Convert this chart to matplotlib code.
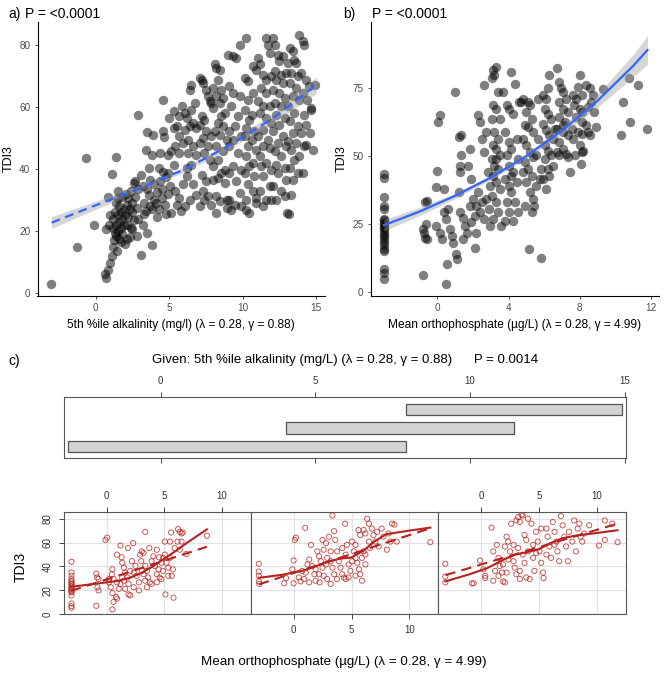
import matplotlib
matplotlib.use('Agg')
import matplotlib.pyplot as plt
import numpy as np

plt.rcParams['font.family'] = ['Liberation Sans', 'DejaVu Sans']

# ---------------- data: panel a (TDI3 vs transformed alkalinity) ----------------
alk_x = [
    -3.05, -1.3, -0.65, -0.1, 0.6, 0.7, 0.85, 0.7, 0.85, 0.9, 0.95,
    1.0, 1.1, 1.15, 1.25, 1.3, 1.4, 1.1, 1.2, 1.3, 1.4, 1.5, 1.5, 1.6, 1.6, 1.7,
    1.7, 1.8, 1.8, 1.9, 1.9, 1.35, 1.5, 1.6, 1.7, 1.45, 1.55, 1.8, 2.0, 1.2, 1.4,
    2.0, 2.1, 2.1, 2.2, 2.2, 2.3, 2.4, 2.4, 2.5, 2.5, 2.6, 2.6, 2.7, 2.7, 2.8,
    2.8, 2.9, 2.9, 2.3, 2.45, 2.05, 2.9, 2.1,
    3.1, 3.2, 3.3, 3.4, 3.5, 3.5, 3.6, 3.6, 3.7, 3.7, 3.8, 3.85, 3.9, 3.95, 4.0,
    3.3, 3.1, 3.2, 3.5, 3.8, 3.45,
    4.3, 4.6, 4.6, 4.65, 4.1, 4.2, 4.3, 4.4, 4.5, 4.5, 4.7, 4.8, 4.9, 4.9, 4.4,
    4.8, 4.15, 4.6,
    5.0, 5.3, 5.4, 5.15, 5.3, 5.5, 5.7, 5.95, 5.7, 5.15, 5.4, 5.7, 5.95, 6.2,
    5.7, 6.05, 5.9, 5.05, 5.5, 5.8, 6.05, 4.95, 5.3,
    6.4, 6.5, 6.75, 6.5, 6.2, 6.6, 6.85, 6.3, 6.6, 6.85, 6.5, 6.2, 6.6, 6.85,
    6.4, 6.3, 6.4, 6.05,
    7.1, 7.2, 7.3, 7.5, 7.65, 7.85, 7.75, 7.2, 7.4, 7.1, 7.5, 7.85, 7.3, 7.1,
    7.65, 7.4, 7.75, 7.2, 7.5, 7.3, 7.65, 7.85, 7.1, 8.0, 7.4,
    8.1, 8.2, 8.45, 8.3, 8.0, 8.55, 8.2, 8.65, 8.45, 8.0, 8.8, 8.3, 8.65, 8.1,
    8.45, 8.9, 8.2, 8.65, 8.3, 8.0, 8.55, 8.3, 8.8, 8.2, 8.45, 8.9, 8.2, 8.8, 8.55,
    9.0, 9.35, 9.55, 9.1, 9.35, 9.8, 9.2, 9.7, 9.45, 9.1, 9.9, 9.35, 9.1, 9.7,
    9.35, 9.9, 9.1, 9.55, 9.8, 9.1, 9.45, 9.9, 9.2, 8.9,
    9.8, 10.25, 10.15, 10.35, 10.7, 10.9, 10.35, 10.7, 10.15, 10.45, 10.25, 10.8,
    10.15, 10.6, 10.35, 10.9, 10.25, 10.7, 10.45, 10.15, 10.8, 10.35, 10.7, 10.25,
    10.9, 10.25, 10.45, 10.9, 10.6,
    11.05, 11.15, 11.6, 11.7, 11.85, 11.4, 11.6, 11.95, 11.25, 11.6, 11.05, 11.4,
    11.85, 11.15, 11.6, 11.95, 11.4, 11.05, 11.7, 11.4, 11.85, 11.15, 11.6, 11.25,
    11.95, 11.4, 11.85, 11.15, 11.6, 11.4, 11.95,
    12.05, 12.2, 12.4, 12.5, 12.75, 12.2, 12.6, 12.95, 12.3, 12.75, 12.05, 12.5,
    12.85, 12.2, 12.6, 12.3, 12.85, 12.5, 12.05, 12.75, 12.4, 12.95, 12.2, 12.6,
    12.3, 12.85, 12.4, 12.95, 12.05, 12.6, 12.3, 12.85,
    13.0, 13.15, 13.2, 13.4, 13.1, 13.5, 13.3, 13.75, 13.2, 13.65, 13.4, 13.85,
    13.1, 13.5, 13.2, 13.75, 13.4, 13.1, 13.65, 13.3, 13.5, 13.2, 13.4, 13.3,
    13.75, 13.85,
    13.85, 14.1, 14.2, 13.65, 14.0, 14.3, 14.5, 14.1, 14.4, 14.2, 14.65, 14.3,
    14.0, 14.55, 14.2, 14.75, 14.9, 14.65, 14.1, 14.3,
]
alk_tdi = [
    3.0, 15, 43.5, 21.8, 6.1, 4.8, 7.5, 20.7, 31, 22, 25,
    9.7, 11.8, 15, 17.2, 19.4, 44, 38.5, 24, 26, 22, 20, 25, 23, 28, 21,
    26, 24, 19, 27, 22, 29, 30.5, 17.5, 16.5, 13.5, 33, 31, 15.8, 21, 18.5,
    25, 22, 28.5, 24.5, 30.5, 27, 21, 33, 26, 29, 23.5, 35.5, 36, 31, 18.3,
    27.5, 57.5, 33.5, 18, 20.5, 32, 24, 17.5,
    12.4, 34.4, 29, 46, 52, 19.4, 40.3, 31.5, 28, 36.5, 27, 15.4, 50.8, 30, 35,
    25.5, 38, 22, 33.5, 44.5, 26.5,
    40.3, 62.4, 52.4, 50.2, 29, 32.5, 27, 36, 30.5, 33.5, 28.5, 37.5, 32, 44.5, 45,
    25.5, 24.5, 39,
    56.5, 53.2, 47.3, 45.7, 58.6, 53.8, 50.5, 48.4, 45.2, 25.8, 32.8, 30.6, 35, 40.3,
    57, 58, 60.2, 34.4, 28.5, 26.3, 28, 38.7, 41.4,
    65.6, 67.2, 61.3, 59.1, 56.5, 54.8, 53.2, 49.5, 47.3, 44.6, 41.4, 37.6, 35, 31.7,
    30, 45.2, 53.8, 52.7,
    69.4, 68.8, 67.7, 65.6, 63.4, 61.3, 61.8, 57, 55.9, 54.3, 52.2, 50.5, 50, 48.4,
    47.3, 45.2, 43, 38.2, 36, 32.8, 31.2, 28.5, 28, 36.6, 30,
    73.7, 72.6, 72, 68.8, 66.1, 65.6, 63.4, 62.9, 61.3, 59.7, 58, 54.8, 53.8, 52.2,
    51, 49.5, 47.3, 45.7, 43, 40.9, 38.7, 37, 35.5, 31.2, 29.6, 27.4, 25.8, 39.8, 57,
    76.6, 76.3, 75.8, 66.7, 64.5, 63.4, 60.2, 57, 53.8, 52.2, 50.5, 49.5, 47.3, 45.2,
    40.9, 39.8, 38.7, 36, 32.3, 30.1, 28.5, 28, 26.9, 30,
    80.1, 82.3, 69.4, 68.3, 73.1, 72, 62.4, 64.5, 59.1, 55.9, 53.2, 52.2,
    50.5, 49.5, 47.3, 46.2, 44.1, 41.9, 40.9, 38.7, 37.6, 35, 32.8, 30.1,
    29, 26.9, 25.8, 30.6, 57.5,
    75.8, 73.7, 82.3, 80.1, 77.4, 70.4, 68.8, 69.9, 66.1, 64.5, 61.8, 60.2,
    60.2, 58, 56.5, 54.8, 52.7, 50.5, 49.5, 47.3, 46.8, 44.1, 41.9, 40.9,
    39.8, 37.6, 34.4, 32.8, 30.1, 28, 30.1,
    82.3, 80.1, 76.9, 74.7, 76.3, 71.5, 70.4, 71, 68.8, 67.7, 65.6, 64.5,
    62.9, 61.3, 60.2, 57.5, 56.5, 54.3, 52.2, 50.5, 48.4, 47.3, 45.7, 44.1,
    41.4, 40.3, 38.7, 36.6, 34.4, 32.8, 30.1, 31.2,
    25.8, 25.6, 79, 78, 74.2, 75.3, 71, 69.9, 67.7, 66.1, 63.4, 62.4,
    60.2, 58, 55.4, 53.8, 51.6, 48.9, 48.4, 46.2, 43, 40.3, 36.6, 31.7,
    38.7, 44.1,
    83.3, 81.2, 80.1, 74.2, 71, 68.8, 66.7, 64.5, 62.4, 57.5, 59.7, 54.3,
    51.6, 51.6, 47.3, 46.2, 67.2, 59.1, 38.7, 47.8,
]
fit_a_x = [-3, 0, 3, 6, 9, 12, 15]
fit_a_y = [22.7, 28.3, 33.8, 39.8, 47.3, 56.2, 67.0]
fit_a_lo = [20.8, 27.0, 32.9, 39.0, 46.3, 54.6, 64.3]
fit_a_hi = [24.6, 29.6, 34.7, 40.6, 48.3, 57.8, 69.7]

# ---------------- data: panel b (TDI3 vs transformed orthophosphate) ----------------
phos_x = [
    -3.0, -3.0, -3.0, -3.0, -3.0, -3.0, -3.0, -3.0, -3.0, -3.0, -3.0,
    -3.0, -3.0, -3.0, -3.0, -3.0, -3.0, -3.0, -3.0, -3.0, -3.0, -3.0,
    -0.8, -0.75, -0.7, -0.8, -0.6, -0.63, -0.7, -0.6, 0.0, -0.05, 0.15, 0.05,
    -0.05, 0.15, 0.25, 0.35,
    0.5, 0.55, 0.4, 0.6, 0.5, 0.7, 0.8, 0.9, 1.0, 1.05, 1.1, 1.2, 1.25, 1.3,
    1.35, 1.2, 1.35, 1.25, 1.45, 1.55, 1.65, 1.45,
    1.85, 1.75, 1.9, 2.0, 2.2, 2.1, 2.3, 1.85, 1.9, 2.1, 2.2, 2.4, 2.5, 2.3,
    2.4, 2.5, 2.6, 2.65, 2.75, 2.85, 2.95, 2.75, 2.9, 2.65, 2.95,
    3.15, 3.3, 3.05, 3.2, 3.4, 3.15, 3.3, 3.5, 3.05, 3.2, 3.4, 3.15, 3.3, 3.5,
    3.05, 3.2, 3.4, 3.15, 3.3, 3.5, 3.05, 3.3, 3.4, 3.15, 3.6, 3.3,
    3.7, 3.9, 4.15, 4.35, 4.05, 4.25, 3.8, 4.0, 4.15, 3.9, 4.05, 4.25, 3.8, 4.0,
    4.15, 3.9, 4.05, 4.25, 3.8, 4.35, 4.45, 4.55, 4.45, 4.6, 4.7, 4.55, 4.15,
    4.8, 5.1, 5.2, 5.0, 5.3, 4.9, 5.1, 5.4, 4.8, 5.0, 5.2, 5.4, 4.9, 5.1, 5.3,
    4.8, 5.0, 5.2, 5.4, 4.9, 5.15, 5.3, 5.45, 5.55, 5.55, 5.65, 5.85, 5.75, 5.65, 5.8,
    5.95, 6.1, 6.2, 6.3, 6.05, 6.2, 6.4, 5.95, 6.1, 6.3, 6.5, 6.05, 6.2, 6.4,
    6.05, 6.2, 5.95, 6.1, 6.3, 6.5, 6.7, 6.6,
    6.75, 6.95, 6.85, 7.05, 7.25, 6.85, 7.05, 7.35, 6.85, 7.15, 6.75, 7.05, 7.35,
    6.85, 7.05, 7.25, 6.85, 7.35, 7.45, 7.05, 7.55,
    7.6, 7.8, 8.0, 7.9, 8.15, 8.35, 7.7, 8.0, 8.15, 8.45, 7.8, 8.1, 8.35, 7.9,
    8.15, 8.45, 7.6, 8.0, 8.2, 8.05, 8.15, 7.75,
    8.55, 8.75, 8.8, 8.9, 9.3, 8.65, 8.55, 10.3, 10.45, 10.75, 10.8, 11.25, 11.8,
]
phos_tdi = [
    43.5, 42, 35, 31.5, 30.5, 27, 26.5, 25.5, 25, 24, 23.5,
    22.5, 21.5, 20.5, 19.5, 18.5, 17.5, 16, 15, 8.5, 7, 5,
    23.1, 21.9, 20, 6.2, 19.4, 25, 33, 33.6, 44.6, 38.5, 65, 62.5,
    24.4, 21.9, 19.4, 29.3,
    3.2, 10.2, 37.9, 30.5, 26.8, 23.1, 20.7, 18.2, 73.6, 13.9, 12.1, 36.7, 44, 46.5,
    50.2, 57, 57.6, 29.3, 27.4, 24.4, 21.9, 19.4,
    52.6, 46.5, 41.6, 34.2, 31.7, 28, 36.7, 31.7, 25.6, 16.4, 21.9, 29.3, 33, 65,
    62.5, 56.3, 51.4, 76, 58.8, 44, 39.1, 34.2, 30.5, 26.8, 24.4,
    81.5, 82.8, 78.5, 79.7, 73.6, 68.6, 67.4, 63.7, 63.7, 58.8, 56.3, 53.9, 52.6, 50.2,
    49, 46.5, 45.3, 42.8, 40.3, 37.9, 35.4, 33, 29.3, 26.8, 24.4, 49,
    73.6, 68.6, 81, 76.3, 67.4, 65.6, 58.8, 55.1, 52.6, 50.2, 46.5, 44, 41.6, 39.1,
    36.7, 33, 29.3, 26.2, 26.2, 33, 40.3, 49, 56.3, 69.9, 69.9, 29.3, 42.8,
    71, 69.9, 68.6, 66.2, 63.7, 61.3, 60.6, 58.8, 56.3, 53.9, 51.4, 49.6, 47.7, 45.3, 42.8,
    44, 40.3, 36.7, 34.2, 31.7, 15.7, 29.3, 31.7, 39.1, 50.2, 71, 12.7, 41.6, 56.3, 45.3,
    72.3, 71, 74.8, 79.7, 67.4, 65.6, 63.7, 61.9, 59.4, 57.6, 56.3, 53.9, 52, 50.2,
    49, 45.3, 41.6, 37.9, 42.8, 46.5, 51.4, 60,
    82.2, 74.8, 77.2, 73.6, 71, 69.9, 67.4, 66.2, 64.3, 62.5, 60, 58.8, 57.6,
    55.1, 52.6, 50.8, 50.2, 49.6, 44, 61.3, 60,
    72.3, 71, 79.7, 75.4, 72.3, 76, 68.6, 67.4, 66.2, 68, 64.3, 62.5, 61.3, 58.8,
    58.2, 58.8, 56.3, 53.9, 52, 47, 51.4, 50.2,
    74.8, 72.3, 66.2, 60.6, 74.5, 69.9, 57.6, 57.6, 69.9, 78.7, 62.5, 76, 60,
]
fit_b_x = [-3, -1, 1, 3, 5, 7, 9, 11, 11.8]
fit_b_y = [24.6, 29.6, 35.4, 42.1, 50.0, 59.3, 70.3, 83.1, 88.9]
fit_b_lo = [22.5, 28.1, 34.4, 41.3, 49.1, 57.9, 67.9, 79.0, 83.6]
fit_b_hi = [26.7, 31.1, 36.4, 42.9, 50.9, 60.7, 72.7, 87.2, 94.2]

# ---------------- data: panel c (coplot) ----------------
given_lo = [-2.98, 4.05, 7.92]
given_hi = [7.92, 11.4, 14.9]
given_ticks = [0, 5, 10, 15]

c1_x = [
    -3.05, -3.05, -3.05, -3.05, -3.05, -3.05, -3.05, -3.05, -3.05,
    -3.05, -3.05, -3.05, -3.05, -3.05, -3.05, -3.05, -3.05, -3.05,
    -0.9, -0.83, -0.7, -0.8, -0.7, -0.9, -0.1, 0.05, 0.5, 0.45,
    0.6, 0.2, 0.35, 0.5, 0.8, 0.9, 0.5, 0.6, 1.05, 1.2,
    0.9, 1.3, 1.2, 1.35, 1.5, 1.6, 1.8, 1.5, 1.9, 1.6,
    2.05, 1.85, 2.3, 2.2, 2.5, 2.35, 2.6, 2.8, 2.35, 2.9,
    3.05, 3.2, 3.35, 3.0, 3.35, 3.5, 3.2, 3.6, 3.35, 3.75,
    3.5, 3.9, 4.05, 3.7, 4.35, 4.2, 4.5, 4.35, 4.6, 4.75,
    4.9, 5.05, 5.2, 5.35, 5.65, 5.35, 5.05, 5.5, 5.6, 5.1,
    5.8, 5.75, 5.9, 6.15, 6.2, 6.35, 6.5, 6.6, 6.5, 6.9,
    6.35, 8.7, 4.75, 3.9, 2.8, 1.9, 3.05, 4.35, 4.9, 4.55,
    5.5, 0.9, 1.35, 2.05, 0.2,
]
c1_y = [
    43.9, 34.9, 32.2, 29.5, 26.7, 24.8, 23.2, 21.3, 19.9,
    18.3, 15.8, 9, 6.8, 5.5, 28, 25.5, 22, 19,
    34, 30.8, 29.5, 22.6, 19.9, 7.1, 62.2, 64.1, 37.6, 33.5,
    29.5, 26.7, 22.6, 17.7, 14.5, 13.1, 4.1, 10.4, 21.3, 25.4,
    49.9, 47.7, 57.5, 43.1, 39, 34.9, 30.8, 28.1, 25.4, 21.3,
    15.8, 55.4, 59.5, 44.4, 40.4, 34.9, 32.2, 26.7, 22.6, 49.9,
    52.6, 51.3, 69, 44.4, 40.4, 36.3, 33.5, 30.8, 28.1, 26.7,
    22.6, 44.4, 48.5, 55.4, 54, 40.4, 37.6, 33.5, 30.8, 43.1,
    47.2, 49.9, 43.1, 39, 32.2, 32.2, 60.8, 60.8, 68.4, 16.6,
    13.9, 37.6, 55.4, 60.8, 71.2, 69, 67.6, 68.4, 60.8, 50.4,
    54, 65.7, 29.5, 25.4, 19.9, 16.6, 36.3, 26.7, 36.3, 47.7,
    47.2, 26.7, 30.8, 36.3, 29.5,
]
c2_x = [
    -3.0, -3.0, -3.0, -3.0, -2.95,
    -0.8, -0.65, -0.1, 0.0, 0.1, 0.2, 0.0, 0.45, 0.6, 0.9,
    1.0, 1.05, 1.2, 1.35, 1.5, 1.6, 1.8, 1.9, 2.05, 2.2,
    2.35, 2.5, 2.6, 2.25, 2.5, 2.8, 3.05, 3.35, 3.5, 3.6,
    3.75, 3.2, 2.9, 3.2, 3.35, 3.5, 2.9, 3.2, 3.9, 4.05,
    4.2, 4.45, 4.5, 4.6, 4.75, 4.9, 4.35, 5.05, 5.2, 5.35,
    5.5, 5.65, 4.75, 5.35, 5.6, 5.75, 6.05, 6.2, 6.35, 6.5,
    6.5, 6.6, 6.05, 5.9, 6.2, 5.75, 6.75, 6.9, 7.05, 7.35,
    7.2, 7.6, 7.75, 8.05, 8.35, 8.5, 8.7, 8.9, 8.2, 11.8,
    5.05, 4.2, 1.9, 0.75, 2.8, 3.75, 5.9, 4.5, 2.2, 1.35,
    2.6, 5.35, 6.2,
]
c2_y = [
    42.3, 35.7, 32.2, 27.5, 25.4,
    25.9, 30.3, 37.6, 45, 62.2, 64.1, 25.9, 30.8, 27.5, 29.5,
    72.3, 34.9, 41.7, 45.8, 58.1, 40.4, 33.5, 28.1, 52.6, 48.5,
    44.4, 39, 32.2, 26.7, 62.2, 59.5, 64.9, 82.6, 69.5, 62.2,
    52.6, 52.6, 47.2, 44.4, 39, 33.5, 29.5, 25.4, 44.4, 39,
    33.5, 75.8, 49.9, 58.1, 41.7, 36.3, 30.8, 60.8, 52.6, 47.2,
    43.1, 37.6, 30.8, 32.2, 70.4, 66.3, 70.4, 67.6, 79.9, 75.8,
    60.8, 55.4, 52.6, 47.2, 41.7, 33.5, 71.7, 66.3, 60.8, 56.7,
    69, 71.7, 64.9, 54, 60.8, 75.8, 75, 60.8, 67.6, 60.3,
    44.4, 55.4, 37.6, 36.3, 41.7, 29.5, 28.1, 29.5, 33.5, 26.7,
    54, 58.1, 50,
]
c3_x = [
    -3.1, -3.1, -3.1,
    -0.8, -0.65, -0.1, 0.2, 0.35, 0.35, 0.9, 1.05, 1.2, 1.05,
    1.35, 1.5, 1.6, 1.8, 1.9, 2.05, 2.2, 2.35, 2.5, 2.6,
    2.8, 2.9, 3.05, 3.2, 3.35, 3.5, 3.6, 3.05, 3.35, 3.75,
    3.9, 4.05, 4.2, 4.35, 3.6, 3.75, 3.2, 2.8, 2.35, 4.5,
    4.6, 4.75, 4.9, 5.05, 5.2, 5.35, 5.4, 5.65, 5.75, 5.9,
    6.05, 6.2, 6.35, 6.5, 6.6, 6.75, 6.9, 7.05, 7.2, 7.35,
    7.5, 7.6, 7.9, 8.05, 8.2, 8.35, 8.5, 8.6, 8.75, 8.9,
    9.35, 10.2, 10.7, 10.7, 11.35, 11.8, 4.5, 4.75, 5.65, 4.05,
    1.9, 3.35, 2.2, 3.9, 2.05, 1.5, 5.2, 6.35,
]
c3_y = [
    42.3, 31.6, 26.7,
    25.9, 25.9, 45, 37.6, 32.2, 30.3, 72.5, 28.1, 36.3, 52.6,
    58.1, 47.2, 40.4, 34.9, 27.5, 56.7, 64.9, 60.8, 52.6, 75.8,
    44.4, 39, 78.5, 81.3, 77.2, 83.2, 82.6, 33.5, 29.5, 66.3,
    62.2, 79.9, 29.5, 75.8, 49.9, 43.1, 55.4, 58.1, 45.8, 47.2,
    36.3, 69, 60.8, 52.6, 43.1, 34.9, 30.3, 71.7, 64.9, 56.7,
    47.2, 77.2, 69, 60.8, 52.6, 44.4, 82.1, 74.4, 64.9, 56.7,
    44.4, 69, 60.8, 78.5, 52.6, 71.7, 75.8, 64.9, 60.8, 67.6,
    74.4, 57.5, 78.5, 62.2, 75.8, 60.3, 58.1, 51.2, 49.9, 52.6,
    41.7, 36.3, 34.9, 30.8, 26.7, 32.2, 71.7, 58.1,
]
# smoother (solid) and linear fit (dashed) per coplot panel
c1_smooth_x = [-3.1, -1, 1, 2, 3, 4, 5, 6, 7, 8, 8.7]
c1_smooth_y = [23.0, 25.5, 28.0, 30.5, 34.5, 40.0, 46.5, 53.0, 60.0, 66.5, 71.0]
c1_lin_x = [-3.1, 8.7]
c1_lin_y = [19.5, 56.5]
c2_smooth_x = [-3, -1, 1, 2, 3, 4, 5, 6, 7, 8, 9, 10, 11.8]
c2_smooth_y = [30.5, 33.0, 37.0, 40.5, 44.0, 46.5, 47.5, 53.0, 61.0, 67.0, 68.5, 70.0, 72.5]
c2_lin_x = [-3, 11.8]
c2_lin_y = [25.0, 72.0]
c3_smooth_x = [-3.1, -1, 0.5, 2, 3, 4, 5, 6, 7, 8, 9, 10, 11.8]
c3_smooth_y = [27.5, 33.5, 38.5, 46.0, 50.0, 52.0, 54.5, 59.5, 63.5, 65.5, 66.8, 68.0, 70.3]
c3_lin_x = [-3.1, 11.8]
c3_lin_y = [32.7, 75.8]

# ---------------- figure ----------------
W, H = 667, 680
fig = plt.figure(figsize=(W / 100, H / 100), dpi=100)


def rect(l, t, r, b):
    return [l / W, 1 - b / H, (r - l) / W, (b - t) / H]


def gg_axes(ax):
    for s in ['top', 'right']:
        ax.spines[s].set_visible(False)
    for s in ['left', 'bottom']:
        ax.spines[s].set_color('black')
        ax.spines[s].set_linewidth(0.8)
    ax.tick_params(length=2.5, width=0.6, color='#333333', labelsize=7.2,
                   labelcolor='#4D4D4D', pad=2.6)


# panel a
axa = fig.add_axes(rect(37.5, 22, 325, 295.5))
axa.scatter(alk_x, alk_tdi, s=46, color='black', alpha=0.5, linewidths=0, zorder=2)
axa.fill_between(fit_a_x, fit_a_lo, fit_a_hi, color='#999999', alpha=0.4, lw=0, zorder=3)
axa.plot(fit_a_x, fit_a_y, color='#3366FF', lw=1.6, ls=(0, (4, 2.5)), zorder=4)
axa.set_xlim(-3.96, 15.6)
axa.set_ylim(-0.8, 87.4)
axa.set_xticks([0, 5, 10, 15])
axa.set_yticks([0, 20, 40, 60, 80])
gg_axes(axa)
axa.set_xlabel('5th %ile alkalinity (mg/l) (λ = 0.28, γ = 0.88)', fontsize=8.6, labelpad=4.5)
axa.set_ylabel('TDI3', fontsize=9, labelpad=3)

# panel b
axb = fig.add_axes(rect(370.7, 22, 659, 295.5))
axb.scatter(phos_x, phos_tdi, s=46, color='black', alpha=0.5, linewidths=0, zorder=2)
axb.fill_between(fit_b_x, fit_b_lo, fit_b_hi, color='#999999', alpha=0.4, lw=0, zorder=3)
axb.plot(fit_b_x, fit_b_y, color='#3366FF', lw=1.6, zorder=4)
axb.set_xlim(-3.74, 12.45)
axb.set_ylim(-1.2, 99.2)
axb.set_xticks([0, 4, 8, 12])
axb.set_yticks([0, 25, 50, 75])
gg_axes(axb)
axb.set_xlabel('Mean orthophosphate (µg/L) (λ = 0.28, γ = 4.99)', fontsize=8.6, labelpad=4.5)
axb.set_ylabel('TDI3', fontsize=9, labelpad=3)

fig.text(8 / W, 1 - 14 / H, 'a)', fontsize=10, va='center')
fig.text(25 / W, 1 - 14 / H, 'P = <0.0001', fontsize=10, va='center')
fig.text(343 / W, 1 - 14 / H, 'b)', fontsize=10, va='center')
fig.text(372 / W, 1 - 14 / H, 'P = <0.0001', fontsize=10, va='center')

# panel c: given panel
fig.text(8 / W, 1 - 361 / H, 'c)', fontsize=10, va='center')
fig.text(345 / W, 1 - 360 / H,
         'Given: 5th %ile alkalinity (mg/L) (λ = 0.28, γ = 0.88)      P = 0.0014',
         fontsize=9.5, va='center', ha='center')

frame_col = '#555555'
axg = fig.add_axes(rect(64, 397, 625.6, 458))
levels = np.arange(1, len(given_lo) + 1)
axg.barh(levels, np.array(given_hi) - np.array(given_lo), left=given_lo, height=0.6,
         color='#D3D3D3', edgecolor='#555555', linewidth=0.9)
axg.set_xlim(-3.12, 15.02)
axg.set_ylim(0.4, 3.65)
axg.set_yticks([])
axg.set_xticks(given_ticks)
axg.tick_params(axis='x', top=True, bottom=True, labeltop=True, labelbottom=False,
                length=3.5, width=0.7, color='#444444', labelsize=7, labelcolor='#333333', pad=4.5)
for s in axg.spines.values():
    s.set_color(frame_col)
    s.set_linewidth(0.8)

# panel c: dependence panels
panel_x = [(64, 250.7), (250.7, 438.4), (438.4, 625.6)]
panel_data = [
    (c1_x, c1_y, c1_smooth_x, c1_smooth_y, c1_lin_x, c1_lin_y),
    (c2_x, c2_y, c2_smooth_x, c2_smooth_y, c2_lin_x, c2_lin_y),
    (c3_x, c3_y, c3_smooth_x, c3_smooth_y, c3_lin_x, c3_lin_y),
]
red = '#B5231F'
for k, ((l, r), (px, py, sx, sy, lx, ly)) in enumerate(zip(panel_x, panel_data)):
    ax = fig.add_axes(rect(l, 511.7, r, 614.3))
    ax.set_xlim(-3.7, 12.5)
    ax.set_ylim(0, 85.8)
    ax.set_xticks([0, 5, 10])
    ax.set_yticks([0, 20, 40, 60, 80])
    ax.grid(True, color='#E2E2E2', lw=0.9, zorder=0)
    ax.set_axisbelow(True)
    ax.scatter(px, py, s=14, facecolors='none', edgecolors=red, linewidths=0.6,
               alpha=0.85, zorder=2)
    ax.plot(sx, sy, color=red, lw=1.5, zorder=3)
    ax.plot(lx, ly, color=red, lw=1.5, ls=(0, (5, 3)), zorder=3)
    for s in ax.spines.values():
        s.set_color(frame_col)
        s.set_linewidth(0.8)
    top_lab = (k != 1)
    ax.tick_params(axis='x', top=top_lab, bottom=not top_lab, labeltop=top_lab,
                   labelbottom=not top_lab, length=3.5, width=0.7, color='#444444',
                   labelsize=7, labelcolor='#333333', pad=4.5)
    if k == 0:
        ax.tick_params(axis='y', left=True, labelleft=True, length=3.5, width=0.7,
                       color='#444444', labelsize=7, labelcolor='#333333', pad=4.5)
        for t in ax.get_yticklabels():
            t.set_rotation(90)
            t.set_va('center')
    else:
        ax.tick_params(axis='y', left=False, labelleft=False)

fig.text(21 / W, 1 - 567 / H, 'TDI3', fontsize=10, rotation=90, va='center', ha='center')
fig.text(344 / W, 1 - 662 / H, 'Mean orthophosphate (µg/L) (λ = 0.28, γ = 4.99)',
         fontsize=9.6, va='center', ha='center')

fig.savefig('out.png', dpi=100)
